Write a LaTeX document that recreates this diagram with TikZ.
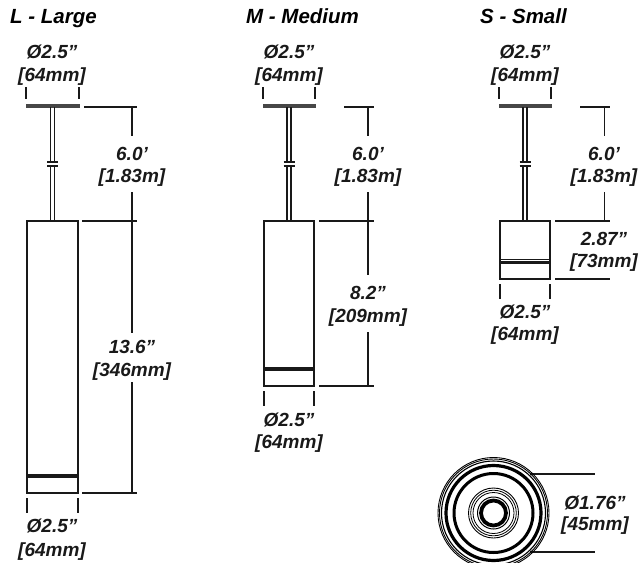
\documentclass[tikz,border=0pt]{standalone}
\usepackage{fontspec}
\setmainfont{Liberation Sans}
\definecolor{ink}{RGB}{25,25,25}
\newcommand{\lbl}[3]{\node[dimlabel] at (#1,#2+6.5) {#3};}
\newcommand{\fixture}[5]{% left x, right x, body bottom, band top, band thick
  \pgfmathsetmacro{\cx}{(#1+#2)/2}
  \fill[ink!80] (#1-1.5,104) rectangle (#2+1.5,107.6);
  \draw[part,line width=1.3pt] (\cx-2,107) -- (\cx-2,162) (\cx+2,107) -- (\cx+2,162);
  \draw[part,line width=1.3pt] (\cx-2,166) -- (\cx-2,221) (\cx+2,166) -- (\cx+2,221);
  \draw[part] (\cx-5.5,162) -- (\cx+5.5,162) (\cx-5.5,166) -- (\cx+5.5,166);
  \draw[part,fill=white] (#1,221) rectangle (#2,#3);
  \draw[part] (#1,#4) -- (#2,#4);
  \draw[part,line width=2.4pt] (#1,#5) -- (#2,#5);
  \draw[dimline] (#1-1,87) -- (#1-1,99) (#2+1,87) -- (#2+1,99);
  \draw[dimline] (#1,#3+5) -- (#1,#3+20) (#2,#3+5) -- (#2,#3+20);
}
\tikzset{
  part/.style={draw=ink,line width=1.15pt},
  dimline/.style={draw=ink,line width=1.05pt},
  dimlabel/.style={font=\fontsize{19}{19}\selectfont\bfseries\itshape,text=ink,inner sep=0pt,anchor=base},
  titlelabel/.style={font=\fontsize{20.5}{20.5}\selectfont\bfseries\itshape,text=black,inner sep=0pt,anchor=base west}
}
\begin{document}
\begin{tikzpicture}[x=1pt,y=-1pt]
\useasboundingbox (0,0) rectangle (639,562);
\node[titlelabel] (tl) at (10,23) {L - Large};
\node[titlelabel] (tm) at (246,23) {M - Medium};
\node[titlelabel] (ts) at (480,23) {S - Small};
% large
\fixture{27}{78}{493}{475}{476.5}
\draw[dimline] (84,107) -- (137,107) (132,107) -- (132,136) (132,192) -- (132,333) (132,382) -- (132,493);
\draw[dimline] (82,221) -- (137,221) (82,493) -- (137,493);
\lbl{52}{52}{Ø2.5”}\lbl{52}{75}{[64mm]}
\lbl{132}{154}{6.0’}\lbl{132}{176}{[1.83m]}
\lbl{132}{347}{13.6”}\lbl{132}{370}{[346mm]}
\lbl{52}{526}{Ø2.5”}\lbl{52}{549.5}{[64mm]}
% medium
\fixture{264}{314}{386}{367.5}{369.6}
\draw[dimline] (344,107) -- (374,107) (368,107) -- (368,136) (368,192) -- (368,275) (368,332) -- (368,386);
\draw[dimline] (319,221) -- (374,221) (319,386) -- (374,386);
\lbl{289}{52}{Ø2.5”}\lbl{289}{75}{[64mm]}
\lbl{368}{154}{6.0’}\lbl{368}{176}{[1.83m]}
\lbl{368}{293}{8.2”}\lbl{368}{316}{[209mm]}
\lbl{289}{419.5}{Ø2.5”}\lbl{289}{441.5}{[64mm]}
% small
\fixture{500}{550}{279}{259.7}{262.3}
\draw[dimline] (580,107) -- (610,107) (604.5,107) -- (604.5,136) (604.5,192) -- (604.5,221);
\draw[dimline] (555,221) -- (610,221) (555,279) -- (610,279);
\lbl{525}{52}{Ø2.5”}\lbl{525}{75}{[64mm]}
\lbl{604}{154}{6.0’}\lbl{604}{176}{[1.83m]}
\lbl{604}{239}{2.87”}\lbl{604}{261}{[73mm]}
\lbl{525}{311.5}{Ø2.5”}\lbl{525}{334}{[64mm]}
% end view
\draw[dimline] (530,474) -- (595,474) (530,552) -- (595,552);
\foreach \r/\w in {55.5/.9,54/.9,52/1.1,47.5/3.2,39.5/3,25/.9,22.8/.8,20.5/.8,16/1,12.5/3.8}
  \draw[draw=black,line width=\w pt,fill=none] (493.5,513) circle (\r);
\lbl{595}{502.5}{Ø1.76”}\lbl{595}{523.5}{[45mm]}
\end{tikzpicture}
\end{document}
